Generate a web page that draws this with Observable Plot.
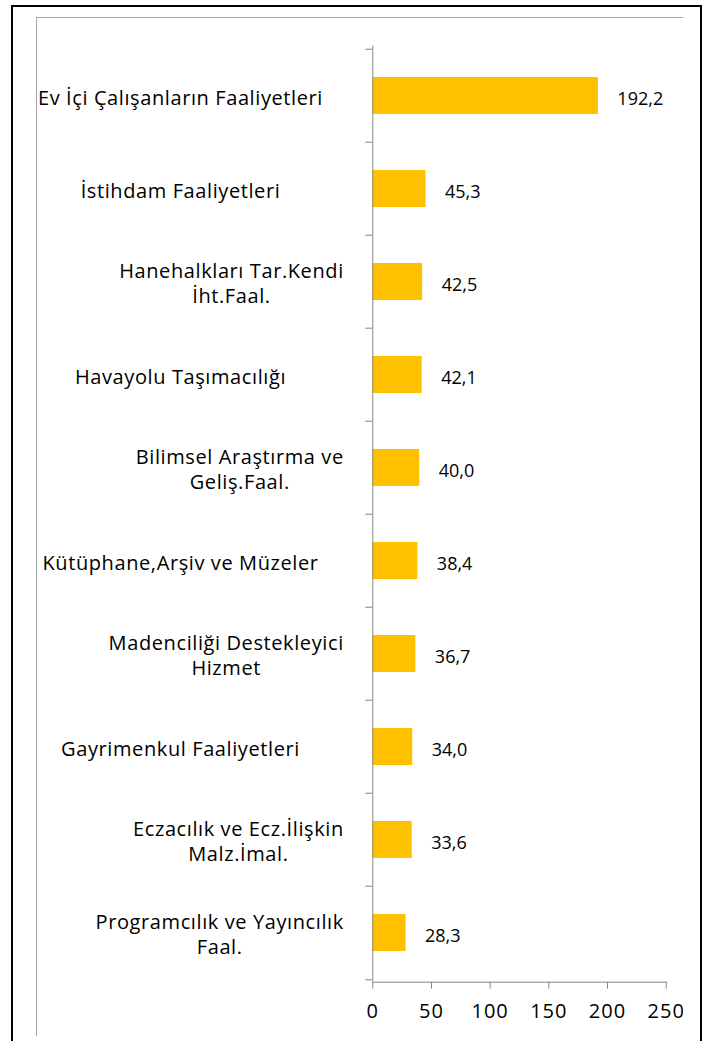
<!DOCTYPE html>
<html>
<head>
<meta charset="utf-8">
<script src="https://cdn.jsdelivr.net/npm/d3@7"></script>
<script src="https://cdn.jsdelivr.net/npm/@observablehq/plot@0.6"></script>
<style>
  html, body { margin: 0; padding: 0; background: #fff; }
  body { width: 706px; height: 1041px; position: relative; overflow: hidden; font-family: "Open Sans", "Noto Sans", sans-serif; }
  #outer { position: absolute; left: 11px; top: 5px; width: 691px; height: 1100px; box-sizing: border-box; border: 2px solid #000; }
  #inner { position: absolute; left: 36px; top: 17px; width: 647px; height: 1019px; box-sizing: border-box; border-top: 1px solid #a6a6a6; border-left: 1px solid #a6a6a6; }
  #chart { position: absolute; left: 37px; top: 18px; width: 646px; height: 1017px; overflow: hidden; }
  #chart svg { overflow: hidden; }
</style>
</head>
<body>
<div id="outer"></div>
<div id="inner"></div>
<div id="chart"></div>
<script>
const categories = [
  "Ev İçi Çalışanların Faaliyetleri",
  "İstihdam Faaliyetleri",
  "Hanehalkları Tar.Kendi\nİht.Faal.",
  "Havayolu Taşımacılığı",
  "Bilimsel Araştırma ve\nGeliş.Faal.",
  "Kütüphane,Arşiv ve Müzeler",
  "Madenciliği Destekleyici\nHizmet",
  "Gayrimenkul Faaliyetleri",
  "Eczacılık ve Ecz.İlişkin\nMalz.İmal.",
  "Programcılık ve Yayıncılık\nFaal."
];
const values = [192.2, 45.3, 42.5, 42.1, 40.0, 38.4, 36.7, 34.0, 33.6, 28.3];
const xTicks = [0, 50, 100, 150, 200, 250];

const data = categories.map((c, i) => ({category: c, value: values[i]}));

const W = 646, H = 1017;
const mL = 335.3, mR = 17.3, mT = 27.7, mB = 53.3;
const step = (H - mT - mB) / categories.length;
const axisGray = "#868686";
const font = "'Open Sans', 'Noto Sans', sans-serif";
const fmt = v => d3.format(".1f")(v).replace(".", ",");

const chart = Plot.plot({
  width: W,
  height: H,
  marginLeft: mL,
  marginRight: mR,
  marginTop: mT,
  marginBottom: mB,
  style: {fontFamily: font, background: "white", overflow: "hidden"},
  x: {domain: [0, 250], label: null},
  y: {domain: categories, paddingInner: 0.6, paddingOuter: 0.3, label: null},
  marks: [
    Plot.barX(data, {x: "value", y: "category", fill: "#FFC000"}),
    Plot.ruleX([0], {stroke: axisGray}),
    Plot.frame({anchor: "bottom", stroke: axisGray}),
    Plot.axisY({tickSize: 7, fill: "none", stroke: axisGray, dy: -step / 2, label: null}),
    Plot.axisY({ticks: [categories[categories.length - 1]], tickSize: 7, fill: "none", stroke: axisGray, dy: step / 2, label: null}),
    Plot.axisX({ticks: xTicks, tickSize: 7, tickPadding: 15, stroke: axisGray, fill: "#000", fontSize: 20, label: null, tickFormat: d => String(d)}),
    Plot.text(data, {x: "value", y: "category", text: d => fmt(d.value), textAnchor: "start", dx: 19, dy: 3, fontSize: 18, fill: "#000"}),
    Plot.text(data, {y: "category", text: "category", frameAnchor: "left", textAnchor: "middle", lineHeight: 1.3, fontSize: 20, fill: "#000"})
  ]
});

document.getElementById("chart").appendChild(chart);

// widen glyph spacing of axis tick labels
chart.querySelectorAll('g[aria-label="x-axis tick label"] text').forEach(t => t.setAttribute("letter-spacing", "1"));

// place category labels: wrapped labels as a block whose right edge sits left of the axis,
// each line centered within the block; single-line labels centered in the label area
const yScale = chart.scale("y");
const blockRight = mL - 29;
const singleCenter = 143;
const textGroups = chart.querySelectorAll('g[aria-label="text"]');
const labelGroup = textGroups[textGroups.length - 1];
labelGroup.querySelectorAll("text").forEach((t, i) => {
  t.setAttribute("letter-spacing", "0.6");
  t.removeAttribute("x");
  t.removeAttribute("y");
  t.setAttribute("transform", "translate(0,0)");
  const b = t.getBBox();
  const multi = t.querySelectorAll("tspan").length > 1;
  const targetX = multi ? blockRight - b.width / 2 : singleCenter;
  const targetY = yScale.apply(categories[i]) + 1;
  const tx = targetX - (b.x + b.width / 2);
  const ty = targetY - (b.y + b.height / 2);
  t.setAttribute("transform", `translate(${tx},${ty})`);
});
</script>
</body>
</html>
